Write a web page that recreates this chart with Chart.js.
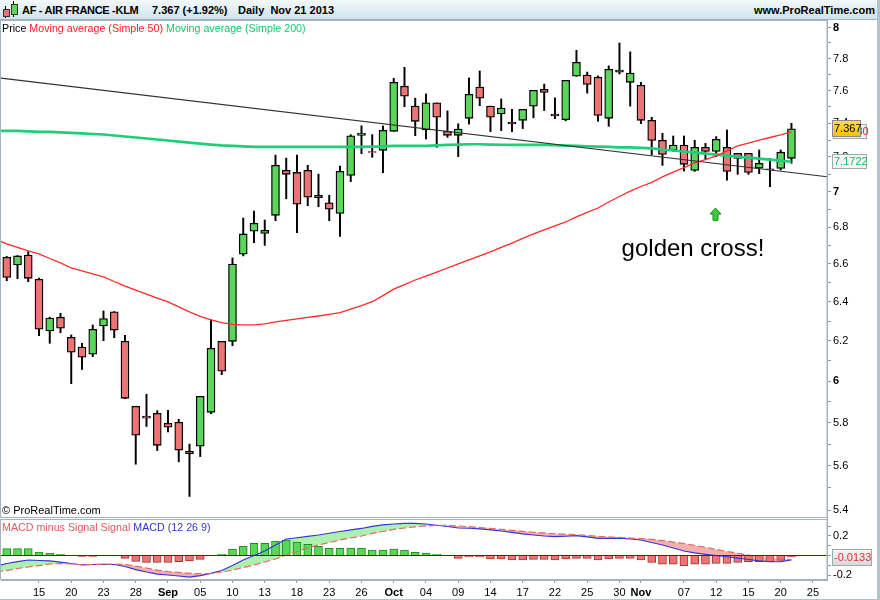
<!DOCTYPE html>
<html>
<head>
<meta charset="utf-8">
<title>AF - AIR FRANCE -KLM</title>
<script src="https://cdn.jsdelivr.net/npm/chart.js@4.4.1/dist/chart.umd.min.js"></script>
<style>
  html, body { margin: 0; padding: 0; background: #fff; }
  body { font-family: "Liberation Sans", Arial, sans-serif; }
  #wrap { position: relative; width: 880px; height: 600px; overflow: hidden; background: #fff; }
  #head { position: absolute; left: 0; top: 0; width: 878px; height: 19px;
          background: linear-gradient(#f3f9fc, #cfe3ed); border-bottom: 1px solid #a3b3bd;
          font-weight: bold; font-size: 11px; line-height: 20px; color: #000; }
  #head span { position: absolute; top: 0; white-space: pre; }
  .ic { position: absolute; display: block; }
  .txt { position: absolute; white-space: pre; font-size: 10.7px; line-height: 13px; }
  #rborder { position: absolute; left: 877px; top: 0; width: 3px; height: 600px; background: #b4c2cb; }
  #bborder { position: absolute; left: 0; top: 599px; width: 880px; height: 1px; background: #b4c2cb; }
</style>
</head>
<body>
<div id="wrap">
  <div id="head">
    <i class="ic" style="left:5px;top:6px;width:1px;height:12px;background:#000"></i>
    <i class="ic" style="left:3px;top:9px;width:5px;height:6px;background:#ec7474;border:1px solid #333"></i>
    <i class="ic" style="left:13px;top:1px;width:1px;height:16px;background:#000"></i>
    <i class="ic" style="left:11px;top:4px;width:5px;height:9px;background:#5ad65a;border:1px solid #333"></i>
    <span style="left:22px;letter-spacing:-0.3px">AF - AIR FRANCE -KLM</span>
    <span style="left:152px">7.367 (+1.92%)</span>
    <span style="left:238px">Daily  Nov 21 2013</span>
    <span style="right:3px">www.ProRealTime.com</span>
  </div>
  <canvas id="price" width="880" height="499" style="position:absolute;left:0;top:20px"></canvas>
  <canvas id="macd" width="880" height="81" style="position:absolute;left:0;top:519px"></canvas>
  <div class="txt" style="left:2px;top:22px">Price <span style="color:#ff2020">Moving average (Simple 50)</span> <span style="color:#12c86a">Moving average (Simple 200)</span></div>
  <div class="txt" style="left:2px;top:504px;font-size:11px">© ProRealTime.com</div>
  <div class="txt" style="left:2px;top:521px"><span style="color:#e05a5a">MACD minus Signal Signal</span> <span style="color:#3434cc">MACD (12 26 9)</span></div>
  <div id="rborder"></div>
  <div id="bborder"></div>
</div>
<script>
// trading days, Aug 12 -> Nov 21 2013
const days = [
  'Aug 12','Aug 13','Aug 14','Aug 15','Aug 16','Aug 19','Aug 20','Aug 21','Aug 22','Aug 23',
  'Aug 26','Aug 27','Aug 28','Aug 29','Aug 30','Sep 2','Sep 3','Sep 4','Sep 5','Sep 6',
  'Sep 9','Sep 10','Sep 11','Sep 12','Sep 13','Sep 16','Sep 17','Sep 18','Sep 19','Sep 20',
  'Sep 23','Sep 24','Sep 25','Sep 26','Sep 27','Sep 30','Oct 1','Oct 2','Oct 3','Oct 4',
  'Oct 7','Oct 8','Oct 9','Oct 10','Oct 11','Oct 14','Oct 15','Oct 16','Oct 17','Oct 18',
  'Oct 21','Oct 22','Oct 23','Oct 24','Oct 25','Oct 28','Oct 29','Oct 30','Oct 31','Nov 1',
  'Nov 4','Nov 5','Nov 6','Nov 7','Nov 8','Nov 11','Nov 12','Nov 13','Nov 14','Nov 15',
  'Nov 18','Nov 19','Nov 20','Nov 21'
];

const opens = [
  6.636, 6.594, 6.648, 6.518, 6.249, 6.320, 6.217, 6.168, 6.132, 6.275,
  6.348, 6.197, 5.878, 5.831, 5.844, 5.797, 5.802, 5.667, 5.690, 5.849,
  6.197, 6.197, 6.652, 6.778, 6.766, 6.866, 7.122, 7.110, 7.122, 6.978,
  6.936, 6.877, 7.093, 7.328, 7.231, 7.239, 7.352, 7.627, 7.504, 7.360,
  7.524, 7.352, 7.328, 7.430, 7.621, 7.504, 7.456, 7.408, 7.418, 7.504,
  7.607, 7.456, 7.422, 7.689, 7.696, 7.683, 7.430, 7.715, 7.651, 7.633,
  7.418, 7.298, 7.239, 7.270, 7.122, 7.257, 7.233, 7.257, 7.221, 7.221,
  7.135, 7.131, 7.133, 7.192
];
const highs = [
  6.640, 6.645, 6.666, 6.524, 6.320, 6.340, 6.229, 6.187, 6.280, 6.352,
  6.349, 6.227, 5.878, 5.936, 5.857, 5.858, 5.816, 5.700, 5.926, 6.306,
  6.197, 6.632, 6.851, 6.890, 6.840, 7.211, 7.193, 7.211, 7.151, 7.100,
  6.979, 7.147, 7.332, 7.385, 7.332, 7.384, 7.676, 7.745, 7.553, 7.579,
  7.524, 7.475, 7.397, 7.678, 7.722, 7.504, 7.548, 7.485, 7.485, 7.601,
  7.640, 7.555, 7.663, 7.853, 7.715, 7.691, 7.754, 7.900, 7.843, 7.651,
  7.436, 7.340, 7.324, 7.324, 7.298, 7.280, 7.320, 7.360, 7.221, 7.221,
  7.241, 7.192, 7.241, 7.400
];
const lows = [
  6.510, 6.521, 6.505, 6.225, 6.187, 6.240, 5.987, 6.057, 6.120, 6.200,
  6.215, 5.914, 5.607, 5.782, 5.670, 5.757, 5.618, 5.462, 5.642, 5.842,
  6.031, 6.175, 6.643, 6.715, 6.700, 6.836, 6.959, 6.770, 6.920, 6.914,
  6.836, 6.749, 7.057, 7.219, 7.198, 7.108, 7.352, 7.501, 7.326, 7.306,
  7.257, 7.316, 7.202, 7.395, 7.507, 7.350, 7.356, 7.350, 7.368, 7.433,
  7.477, 7.428, 7.415, 7.689, 7.584, 7.412, 7.382, 7.703, 7.504, 7.398,
  7.213, 7.151, 7.233, 7.118, 7.116, 7.186, 7.202, 7.065, 7.099, 7.099,
  7.103, 7.028, 7.124, 7.163
];
const closes = [
  6.528, 6.643, 6.523, 6.258, 6.315, 6.263, 6.142, 6.117, 6.258, 6.313,
  6.254, 5.916, 5.741, 5.821, 5.694, 5.779, 5.672, 5.655, 5.926, 6.162,
  6.048, 6.599, 6.763, 6.822, 6.783, 7.151, 7.099, 6.928, 6.968, 6.966,
  6.900, 7.116, 7.325, 7.342, 7.226, 7.358, 7.651, 7.565, 7.412, 7.524,
  7.437, 7.328, 7.366, 7.577, 7.553, 7.437, 7.492, 7.396, 7.485, 7.601,
  7.588, 7.444, 7.663, 7.776, 7.638, 7.448, 7.732, 7.728, 7.709, 7.418,
  7.298, 7.215, 7.270, 7.157, 7.257, 7.233, 7.304, 7.116, 7.192, 7.110,
  7.163, 7.125, 7.228, 7.367
];

const sma50 = [
  6.708, 6.689, 6.670, 6.654, 6.629, 6.605, 6.578, 6.562, 6.546, 6.530,
  6.506, 6.482, 6.461, 6.440, 6.419, 6.399, 6.373, 6.347, 6.324, 6.306,
  6.292, 6.283, 6.280, 6.280, 6.285, 6.296, 6.303, 6.311, 6.319, 6.326,
  6.334, 6.343, 6.362, 6.380, 6.400, 6.432, 6.466, 6.490, 6.514, 6.535,
  6.556, 6.578, 6.600, 6.621, 6.643, 6.665, 6.689, 6.713, 6.738, 6.763,
  6.785, 6.807, 6.829, 6.857, 6.882, 6.907, 6.941, 6.972, 7.003, 7.029,
  7.053, 7.084, 7.112, 7.138, 7.165, 7.185, 7.206, 7.235, 7.265, 7.282,
  7.300, 7.315, 7.330, 7.348
];
const sma200 = [
  7.354, 7.354, 7.351, 7.348, 7.348, 7.345, 7.342, 7.339, 7.336, 7.333,
  7.327, 7.321, 7.315, 7.309, 7.303, 7.297, 7.291, 7.285, 7.279, 7.273,
  7.268, 7.265, 7.262, 7.259, 7.259, 7.259, 7.259, 7.259, 7.259, 7.259,
  7.259, 7.259, 7.259, 7.259, 7.261, 7.262, 7.265, 7.265, 7.265, 7.265,
  7.268, 7.271, 7.273, 7.275, 7.275, 7.273, 7.272, 7.271, 7.271, 7.271,
  7.271, 7.269, 7.267, 7.265, 7.263, 7.261, 7.259, 7.257, 7.256, 7.253,
  7.250, 7.244, 7.238, 7.232, 7.226, 7.220, 7.214, 7.208, 7.201, 7.196,
  7.190, 7.185, 7.179, 7.1722
];

// trend line: price at the left and right edge of the plot
const trendLine = [7.677, 7.085];

const macdLine = [
  -0.082, -0.062, -0.046, -0.051, -0.056, -0.067, -0.082, -0.097, -0.092, -0.090,
  -0.092, -0.113, -0.144, -0.169, -0.190, -0.200, -0.210, -0.221, -0.207, -0.183,
  -0.154, -0.103, -0.046, 0.000, 0.046, 0.108, 0.169, 0.182, 0.195, 0.210,
  0.228, 0.246, 0.262, 0.277, 0.299, 0.313, 0.323, 0.330, 0.330, 0.323,
  0.310, 0.297, 0.282, 0.279, 0.272, 0.262, 0.251, 0.236, 0.221, 0.210,
  0.200, 0.193, 0.197, 0.203, 0.190, 0.176, 0.176, 0.179, 0.169, 0.159,
  0.133, 0.108, 0.077, 0.046, 0.026, 0.012, 0.000, -0.013, -0.026, -0.041,
  -0.056, -0.064, -0.062, -0.046
];
const signalLine = [
  -0.154, -0.133, -0.118, -0.103, -0.087, -0.082, -0.087, -0.094, -0.092, -0.090,
  -0.089, -0.090, -0.108, -0.128, -0.149, -0.164, -0.172, -0.183, -0.187, -0.185,
  -0.169, -0.149, -0.123, -0.097, -0.067, -0.036, 0.005, 0.041, 0.077, 0.108,
  0.133, 0.159, 0.179, 0.200, 0.226, 0.246, 0.267, 0.282, 0.294, 0.303,
  0.308, 0.308, 0.303, 0.295, 0.287, 0.277, 0.269, 0.258, 0.248, 0.238,
  0.231, 0.223, 0.217, 0.213, 0.205, 0.197, 0.190, 0.185, 0.179, 0.174,
  0.166, 0.154, 0.138, 0.123, 0.103, 0.084, 0.062, 0.041, 0.023, 0.005,
  -0.010, -0.023, -0.036, -0.041
];
const macdHist = [
  0.070, 0.070, 0.070, 0.036, 0.022, 0.012, 0.003, -0.010, -0.010, -0.003,
  -0.003, -0.030, -0.060, -0.070, -0.070, -0.070, -0.063, -0.056, -0.039, -0.005,
  0.012, 0.067, 0.094, 0.125, 0.125, 0.149, 0.159, 0.138, 0.115, 0.094,
  0.074, 0.074, 0.077, 0.077, 0.056, 0.056, 0.067, 0.056, 0.033, 0.022,
  0.012, 0.002, -0.029, -0.015, -0.015, -0.036, -0.036, -0.046, -0.046, -0.039,
  -0.039, -0.046, -0.036, -0.029, -0.029, -0.046, -0.036, -0.029, -0.029, -0.046,
  -0.070, -0.090, -0.090, -0.104, -0.090, -0.090, -0.080, -0.080, -0.070, -0.063,
  -0.063, -0.063, -0.050, -0.0133
];

// values on Aug 9 (the day before the first candle), so the lines run in from the left edge
const sma50Prev = 6.733;
const sma200Prev = 7.356;
const macdPrev = -0.107;
const signalPrev = -0.165;

const priceTicks = [5.4, 5.5, 5.6, 5.7, 5.8, 5.9, 6.0, 6.1, 6.2, 6.3, 6.4, 6.5, 6.6, 6.7, 6.8, 6.9, 7.0, 7.1, 7.2, 7.3, 7.4, 7.5, 7.6, 7.7, 7.8, 7.9, 8.0];
const macdTicks = [-0.2, -0.1, 0, 0.1, 0.2, 0.3];
const dateTickIdx = [3, 6, 9, 12, 15, 18, 21, 24, 27, 30, 33, 36, 39, 42, 45, 48, 51, 54, 57, 59, 63, 66, 69, 72, 75];
const dateTickLabels = ['15', '20', '23', '28', 'Sep', '05', '10', '13', '18', '23', '26', 'Oct', '04', '09', '14', '17', '22', '25', '30', 'Nov', '07', '12', '15', '20', '25'];

const X_MIN = -0.535, X_MAX = 76.307;
const P_MIN = 5.367, P_MAX = 8.049;
const M_MIN = -0.251, M_MAX = 0.374;

const FONT = '"Liberation Sans", Arial, sans-serif';
Chart.defaults.font.family = FONT;
Chart.defaults.font.size = 11;
Chart.defaults.color = '#000';

const GREEN = '#5ad65a', RED = '#ec7474', AXIS = '#a3b3bd', TICK = '#8c9aa5';
const last = days.length - 1;

// keep the plot area flush with the canvas edges (no room reserved for edge labels)
const noPad = s => { s.paddingTop = 0; s.paddingBottom = 0; s.paddingLeft = 0; s.paddingRight = 0; };

const frame = {
  id: 'frame',
  afterDraw(chart) {
    const { ctx, chartArea: a } = chart;
    ctx.save();
    ctx.strokeStyle = AXIS;
    ctx.lineWidth = 1;
    ctx.strokeRect(a.left - 0.5, a.top + 0.5, a.right - a.left + 0.5, a.bottom - a.top - 1);
    ctx.restore();
  }
};

function tag(ctx, x, y, w, h, fill, stroke, text, color) {
  const top = Math.round(y - h / 2);
  ctx.fillStyle = fill;
  ctx.fillRect(x, top, w, h);
  ctx.strokeStyle = stroke;
  ctx.lineWidth = 1;
  ctx.strokeRect(x + 0.5, top + 0.5, w - 1, h - 1);
  ctx.fillStyle = color;
  ctx.font = '11px ' + FONT;
  ctx.textAlign = 'left';
  ctx.textBaseline = 'middle';
  ctx.fillText(text, x + 2, top + h / 2 + 0.5);
}

const priceMarks = {
  id: 'priceMarks',
  afterDraw(chart) {
    const { ctx, chartArea, scales: { x, y } } = chart;
    ctx.save();
    ctx.font = '24px ' + FONT;
    ctx.fillStyle = '#000';
    ctx.textAlign = 'left';
    ctx.textBaseline = 'alphabetic';
    ctx.fillText('golden cross!', x.getPixelForValue(57.2), y.getPixelForValue(6.644));

    // green arrow under the cross
    const ax = Math.round(x.getPixelForValue(66)) - 0.5;
    const at = y.getPixelForValue(6.907), ab = y.getPixelForValue(6.838);
    ctx.beginPath();
    ctx.moveTo(ax, at);
    ctx.lineTo(ax + 5.5, at + 6);
    ctx.lineTo(ax + 2.5, at + 6);
    ctx.lineTo(ax + 2.5, ab);
    ctx.lineTo(ax - 2.5, ab);
    ctx.lineTo(ax - 2.5, at + 6);
    ctx.lineTo(ax - 5.5, at + 6);
    ctx.closePath();
    ctx.fillStyle = '#3ccc3c';
    ctx.fill();
    ctx.strokeStyle = '#168c16';
    ctx.lineWidth = 1;
    ctx.stroke();

    const tx = chartArea.right + 5;
    tag(ctx, tx + 1, y.getPixelForValue(sma50[last]), 34, 15, '#efefef', '#a0a8b0', sma50[last].toFixed(4), '#ff2020');
    const g = ctx.createLinearGradient(0, 100, 0, 120);
    g.addColorStop(0, '#ffe040');
    g.addColorStop(1, '#f4b800');
    tag(ctx, tx, y.getPixelForValue(closes[last]), 29, 17, g, '#8a8a8a', closes[last].toFixed(3), '#000');
    tag(ctx, tx, y.getPixelForValue(sma200[last]), 35, 15, '#f6f6f6', '#a0a8b0', sma200[last].toFixed(4), '#10c060');
    ctx.restore();
  }
};

const macdMarks = {
  id: 'macdMarks',
  afterDraw(chart) {
    const { ctx, chartArea, scales: { y } } = chart;
    ctx.save();
    const g = ctx.createLinearGradient(0, 30, 0, 48);
    g.addColorStop(0, '#f7f7f7');
    g.addColorStop(1, '#d6d6d6');
    tag(ctx, chartArea.right + 5, y.getPixelForValue(macdHist[last]) + 1, 40, 17, g, '#a0a8b0', macdHist[last].toFixed(4), '#e03030');
    ctx.restore();
  }
};

const xy = arr => arr.map((v, i) => ({ x: i, y: v }));
const withPrev = (prev, arr) => [{ x: -1, y: prev }].concat(xy(arr));

new Chart(document.getElementById('price'), {
  type: 'bar',
  data: {
    datasets: [
      { type: 'line', label: 'trend', data: [{ x: X_MIN, y: trendLine[0] }, { x: X_MAX, y: trendLine[1] }],
        borderColor: '#303030', borderWidth: 1.2, pointRadius: 0, order: 0 },
      { type: 'line', label: 'Moving average (Simple 50)', data: withPrev(sma50Prev, sma50),
        borderColor: '#ff2a2a', borderWidth: 1.3, pointRadius: 0, order: 0 },
      { type: 'line', label: 'Moving average (Simple 200)', data: withPrev(sma200Prev, sma200),
        borderColor: '#1ccf78', borderWidth: 2.7, pointRadius: 0, order: 0 },
      { label: 'wick', data: days.map((d, i) => ({ x: i, y: [lows[i], highs[i]] })),
        backgroundColor: '#000', barThickness: 1.3, grouped: false, order: 2 },
      { label: 'Price', data: days.map((d, i) => ({ x: i, y: [opens[i], closes[i]] })),
        backgroundColor: opens.map((o, i) => closes[i] >= o ? GREEN : RED),
        borderColor: '#000', borderWidth: 1.3, borderSkipped: false,
        barThickness: 8, grouped: false, order: 1 }
    ]
  },
  options: {
    responsive: false,
    animation: false,
    layout: { padding: { left: 1, right: 0, top: 0, bottom: 1 } },
    plugins: { legend: { display: false }, tooltip: { enabled: false } },
    scales: {
      x: { type: 'linear', display: false, min: X_MIN, max: X_MAX, offset: false, grid: { offset: false } },
      y: {
        type: 'logarithmic', position: 'right', min: P_MIN, max: P_MAX,
        afterBuildTicks: s => { s.ticks = priceTicks.map(v => ({ value: v })); },
        afterFit: s => { s.width = 53; noPad(s); },
        ticks: {
          autoSkip: false, padding: 2, color: '#000',
          callback: v => Math.round(v * 10) % 2 === 0 ? (Number.isInteger(v) ? v.toFixed(0) : v.toFixed(1)) : '',
          font: c => ({ size: 11, weight: (c.tick && Number.isInteger(c.tick.value)) ? 'bold' : 'normal' })
        },
        grid: { drawOnChartArea: false, tickLength: 4, color: TICK },
        border: { color: AXIS }
      }
    }
  },
  plugins: [frame, priceMarks]
});

new Chart(document.getElementById('macd'), {
  type: 'bar',
  data: {
    datasets: [
      { type: 'line', label: 'zero', data: [{ x: X_MIN, y: 0 }, { x: X_MAX, y: 0 }],
        borderColor: '#2020c8', borderWidth: 1, pointRadius: 0, order: 0 },
      { label: 'MACD minus Signal', data: xy(macdHist),
        backgroundColor: macdHist.map(v => v >= 0 ? GREEN : RED),
        borderColor: macdHist.map(v => v >= 0 ? '#1e8e1e' : '#a83232'),
        borderWidth: 1, barThickness: 8, grouped: false, order: 3 },
      { type: 'line', label: 'Signal', data: withPrev(signalPrev, signalLine),
        borderColor: '#e06a6a', borderWidth: 1.2, borderDash: [7, 3], pointRadius: 0, order: 1 },
      { type: 'line', label: 'MACD (12 26 9)', data: withPrev(macdPrev, macdLine),
        borderColor: '#3535d8', borderWidth: 1.2, pointRadius: 0, order: 1,
        fill: { target: 2, above: 'rgba(160,238,160,0.85)', below: 'rgba(242,160,160,0.85)' } }
    ]
  },
  options: {
    responsive: false,
    animation: false,
    layout: { padding: { left: 1, right: 0, top: 0, bottom: 0 } },
    plugins: { legend: { display: false }, tooltip: { enabled: false }, filler: { drawTime: 'beforeDatasetsDraw' } },
    scales: {
      x: {
        type: 'linear', min: X_MIN, max: X_MAX, offset: false,
        afterBuildTicks: s => { s.ticks = dateTickIdx.map(v => ({ value: v })); },
        afterFit: s => { s.height = 20; noPad(s); },
        ticks: {
          autoSkip: false, maxRotation: 0, padding: 3, color: '#000',
          callback: v => dateTickLabels[dateTickIdx.indexOf(v)],
          font: c => ({ size: 11, weight: (c.tick && /[A-Z]/.test(dateTickLabels[dateTickIdx.indexOf(c.tick.value)] || '')) ? 'bold' : 'normal' })
        },
        grid: { drawOnChartArea: false, tickLength: 3, color: TICK, offset: false },
        border: { color: AXIS }
      },
      y: {
        position: 'right', min: M_MIN, max: M_MAX,
        afterBuildTicks: s => { s.ticks = macdTicks.map(v => ({ value: v })); },
        afterFit: s => { s.width = 53; noPad(s); },
        ticks: {
          autoSkip: false, padding: 2, color: '#000',
          callback: v => Math.abs(Math.abs(v) - 0.2) < 1e-9 ? v.toFixed(1) : ''
        },
        grid: { drawOnChartArea: false, tickLength: 4, color: TICK },
        border: { color: AXIS }
      }
    }
  },
  plugins: [frame, macdMarks]
});
</script>
</body>
</html>
